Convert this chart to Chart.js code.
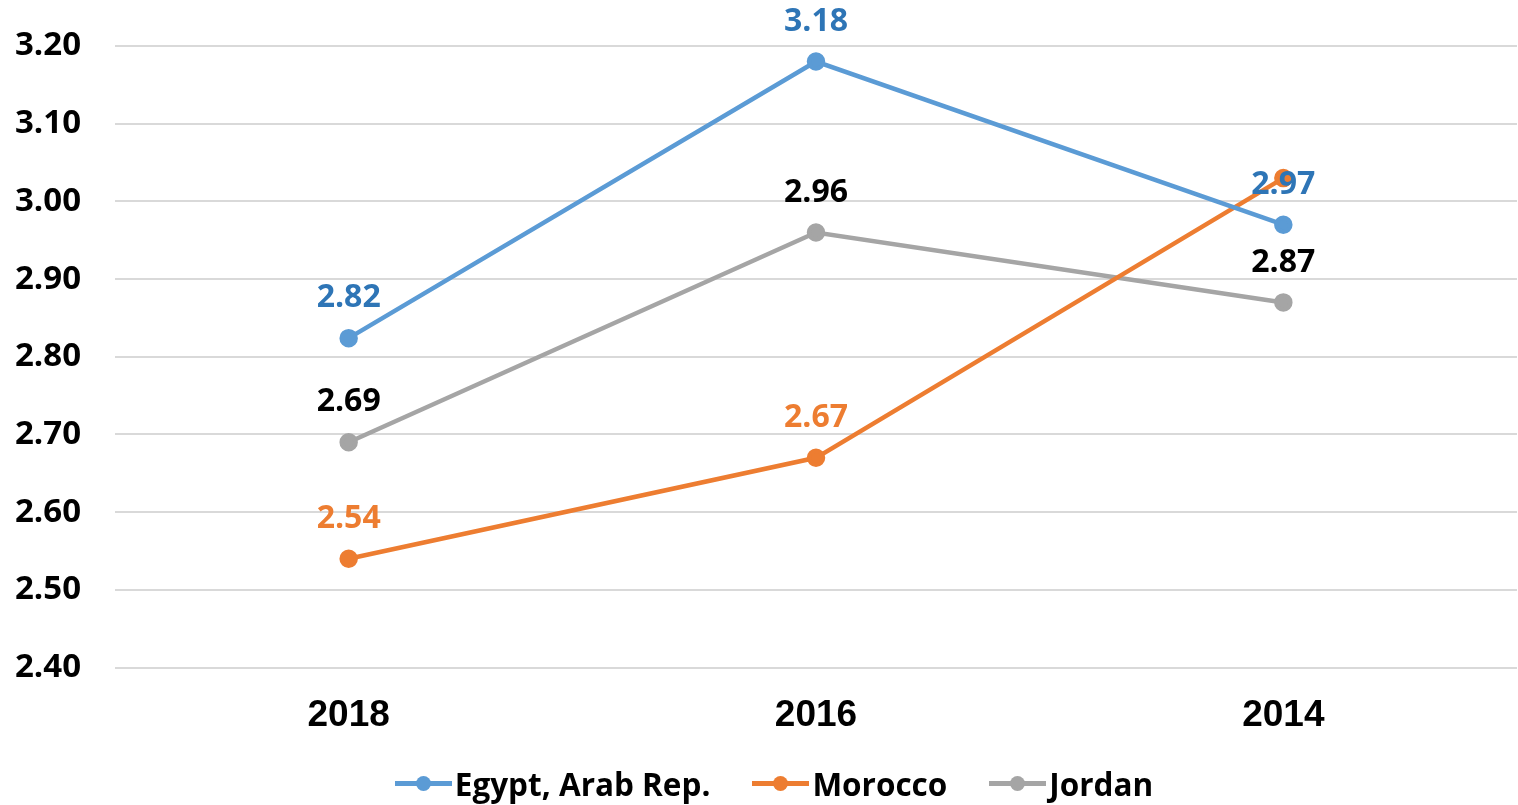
<!DOCTYPE html>
<html>
<head>
<meta charset="utf-8">
<title>Egypt, Morocco, Jordan</title>
<script src="https://cdn.jsdelivr.net/npm/chart.js@4.4.1/dist/chart.umd.min.js"></script>
<style>
    html, body { margin: 0; padding: 0; background: #ffffff; overflow: hidden; }
    .chart-wrap { width: 1518px; height: 805px; position: relative; }
    canvas { display: block; }
    .legend {
        position: absolute; left: 0; top: 760px; width: 1518px; height: 46px;
        display: flex; justify-content: center; align-items: center;
        padding-left: 30px; box-sizing: border-box;
        font-family: "Open Sans", sans-serif; font-weight: bold; font-size: 31.5px; color: #000;
    }
    .legend-item { display: flex; align-items: center; margin: 0 21px; }
    .legend-line { position: relative; width: 57px; height: 5px; margin-right: 3px; }
    .legend-line::after {
        content: ''; position: absolute; left: 21px; top: -5px;
        width: 15px; height: 15px; border-radius: 50%; background: inherit;
    }
</style>
</head>
<body>
<div class="chart-wrap">
    <canvas id="score-chart"></canvas>
    <div class="legend" id="chart-legend"></div>
</div>
<script>
// --- Data ---
const years = ['2018', '2016', '2014'];
const egyptValues = [2.824, 3.18, 2.97];
const moroccoValues = [2.54, 2.67, 3.03];
const jordanValues = [2.69, 2.96, 2.87];
const egyptLabels = ['2.82', '3.18', '2.97'];
const moroccoLabels = ['2.54', '2.67', null]; // last one is hidden under Egypt's label
const jordanLabels = ['2.69', '2.96', '2.87'];
const yTicks = [2.40, 2.50, 2.60, 2.70, 2.80, 2.90, 3.00, 3.10, 3.20];

const labelFont = 'bold 32px "Open Sans", sans-serif';

// Draws value labels above each point, after the lines.
const valueLabelsPlugin = {
    id: 'valueLabels',
    afterDatasetsDraw(chart) {
        const ctx = chart.ctx;
        ctx.save();
        ctx.font = labelFont;
        ctx.textAlign = 'center';
        ctx.textBaseline = 'middle';
        // Draw Morocco and Jordan first, Egypt on top
        [1, 2, 0].forEach(i => {
            const ds = chart.data.datasets[i];
            const meta = chart.getDatasetMeta(i);
            meta.data.forEach((pt, j) => {
                const txt = ds.valueLabels[j];
                if (!txt) return;
                ctx.fillStyle = ds.labelColor;
                ctx.fillText(txt, pt.x, pt.y - 40);
            });
        });
        ctx.restore();
    }
};

function makeSeries(label, values, color, labelColor, valueLabels) {
    return {
        label: label,
        data: values,
        borderColor: color,
        backgroundColor: color,
        pointBackgroundColor: color,
        pointBorderColor: color,
        borderWidth: 4.5,
        pointRadius: 7,
        pointHoverRadius: 7,
        tension: 0,
        labelColor: labelColor,
        valueLabels: valueLabels
    };
}

const ctx = document.getElementById('score-chart');
const chart = new Chart(ctx, {
    type: 'line',
    data: {
        labels: years,
        datasets: [
            makeSeries('Egypt, Arab Rep.', egyptValues, '#5B9BD5', '#2E75B6', egyptLabels),
            makeSeries('Morocco', moroccoValues, '#ED7D31', '#ED7D31', moroccoLabels),
            makeSeries('Jordan', jordanValues, '#A5A5A5', '#000000', jordanLabels)
        ]
    },
    options: {
        responsive: true,
        maintainAspectRatio: false,
        animation: false,
        layout: { autoPadding: false, padding: { top: 46, right: 1, left: 15, bottom: 41 } },
        plugins: {
            legend: { display: false },
            tooltip: { enabled: false }
        },
        scales: {
            x: {
                offset: true,
                grid: { display: false, drawTicks: false },
                border: { display: false },
                ticks: {
                    color: '#000000',
                    padding: 26,
                    font: { family: '"Liberation Sans", Arial, sans-serif', size: 37, weight: 'bold' }
                }
            },
            y: {
                min: 2.4,
                max: 3.2,
                afterBuildTicks(axis) {
                    axis.ticks = yTicks.map(v => ({ value: v }));
                },
                afterFit(axis) {
                    axis.width = 100;
                },
                grid: { color: '#D9D9D9', lineWidth: 2, drawTicks: false },
                border: { display: false },
                ticks: {
                    color: '#000000',
                    padding: 2,
                    crossAlign: 'far',
                    callback: v => v.toFixed(2),
                    font: { family: '"Open Sans", sans-serif', size: 33, weight: 'bold' }
                }
            }
        }
    },
    plugins: [valueLabelsPlugin]
});

// HTML legend: line with a dot, then the series name
const legendEl = document.getElementById('chart-legend');
chart.data.datasets.forEach(ds => {
    const item = document.createElement('div');
    item.className = 'legend-item';
    const line = document.createElement('span');
    line.className = 'legend-line';
    line.style.background = ds.borderColor;
    const text = document.createElement('span');
    text.textContent = ds.label;
    item.appendChild(line);
    item.appendChild(text);
    legendEl.appendChild(item);
});
</script>
</body>
</html>
